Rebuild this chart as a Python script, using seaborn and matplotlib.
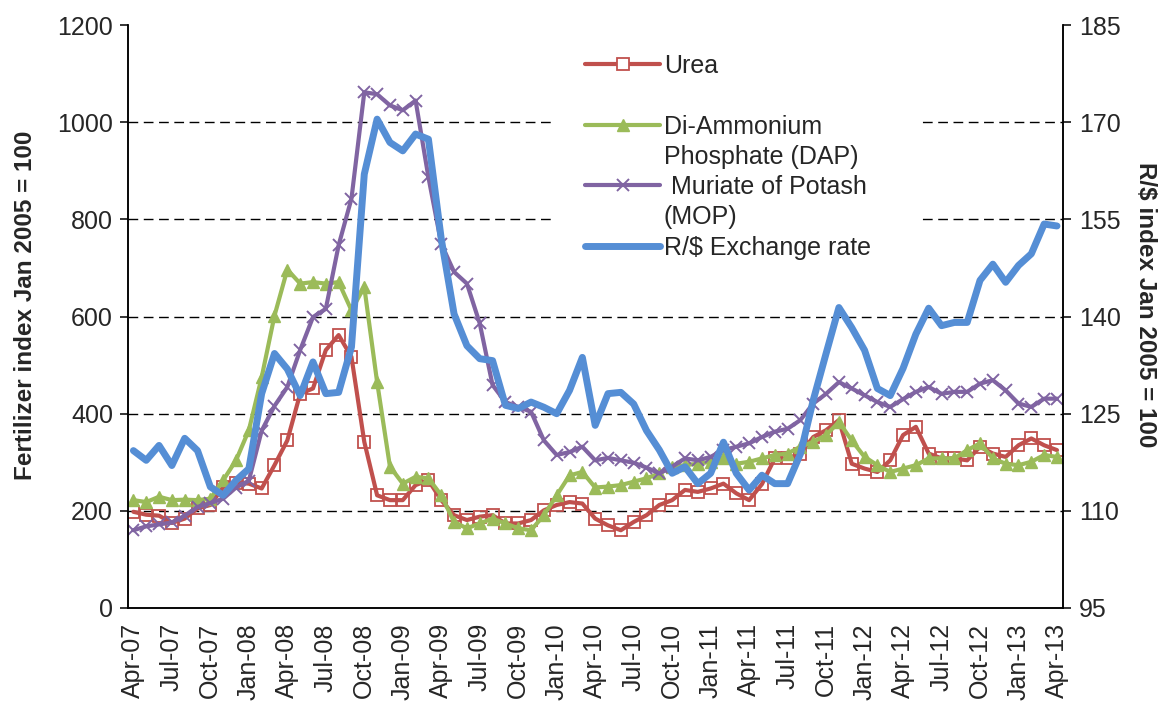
import numpy as np
import pandas as pd
import seaborn as sns
import matplotlib.pyplot as plt
from matplotlib.lines import Line2D

# monthly data Apr-07 .. Apr-13
tick_labels = [
    "Apr-07", "Jul-07", "Oct-07", "Jan-08", "Apr-08", "Jul-08", "Oct-08",
    "Jan-09", "Apr-09", "Jul-09", "Oct-09", "Jan-10", "Apr-10", "Jul-10",
    "Oct-10", "Jan-11", "Apr-11", "Jul-11", "Oct-11", "Jan-12", "Apr-12",
    "Jul-12", "Oct-12", "Jan-13", "Apr-13",
]

urea = [
    198, 192, 190, 175, 184, 205, 212, 249, 258, 256, 246, 294, 345,
    441, 452, 531, 562, 517, 342, 232, 222, 222, 253, 263, 222,
    191, 181, 188, 191, 174, 174, 181, 201, 212, 218, 215, 184,
    170, 160, 177, 191, 212, 222, 243, 239, 246, 256, 236, 222,
    255, 308, 308, 318, 352, 366, 387, 297, 287, 280, 304, 356,
    373, 318, 308, 308, 304, 332, 318, 311, 335, 349, 335, 325,
]

dap = [
    222, 218, 229, 222, 223, 222, 225, 263, 304, 366, 475, 602, 697,
    668, 671, 668, 671, 613, 661, 465, 291, 256, 270, 267, 232,
    177, 164, 174, 184, 174, 164, 160, 191, 232, 273, 280, 248,
    250, 253, 260, 267, 277, 291, 294, 297, 301, 308, 297, 301,
    308, 315, 318, 332, 342, 356, 383, 345, 311, 294, 280, 287,
    294, 308, 308, 308, 325, 339, 308, 297, 294, 301, 315, 311,
]

mop = [
    160, 168, 172, 176, 190, 208, 216, 225, 248, 262, 365, 416, 455,
    531, 599, 616, 747, 843, 1062, 1058, 1035, 1025, 1045, 887, 750,
    692, 668, 586, 459, 424, 414, 404, 345, 315, 321, 332, 304,
    309, 304, 299, 289, 277, 291, 308, 304, 311, 325, 332, 339,
    352, 363, 369, 387, 421, 441, 465, 452, 438, 424, 414, 430,
    445, 455, 441, 445, 445, 462, 469, 448, 421, 414, 431, 431,
]

rand_usd = [
    119.3, 117.8, 120.1, 117.0, 121.2, 119.3, 113.7, 112.4, 114.7, 116.5,
    128.1, 134.3, 131.9, 127.8, 133.0, 128.1, 128.3, 135.3, 162.0, 170.5,
    166.9, 165.6, 168.2, 167.4, 152.0, 140.4, 135.5, 133.5, 133.2, 126.3,
    125.8, 126.8, 126.0, 125.0, 128.6, 133.7, 123.2, 128.1, 128.3, 126.5,
    122.4, 119.4, 115.8, 116.8, 114.2, 115.8, 120.6, 115.8, 113.2, 115.5,
    114.2, 114.2, 118.8, 127.1, 134.3, 141.4, 138.3, 134.8, 128.9, 127.8,
    132.0, 137.3, 141.3, 138.6, 139.1, 139.1, 145.6, 148.1, 145.3, 147.9,
    149.7, 154.3, 154.0,
]

months = np.arange(len(urea))

df = pd.DataFrame({
    "month": months,
    "urea": urea,
    "dap": dap,
    "mop": mop,
    "rand": rand_usd,
})

RED = "#C0504D"
GREEN = "#9BBB59"
PURPLE = "#8064A2"
BLUE = "#558ED5"

sns.set_style("white")
plt.rcParams["font.family"] = ["Liberation Sans", "DejaVu Sans"]

fig = plt.figure(figsize=(11.66, 7.02), dpi=100)
ax = fig.add_axes([0.110, 0.134, 0.802, 0.830])

sns.lineplot(
    data=df, x="month", y="urea", ax=ax,
    color=RED, linewidth=3, marker="s", markersize=9,
    mfc="none", mec=RED, mew=1.3, solid_capstyle="round"
)
sns.lineplot(
    data=df, x="month", y="dap", ax=ax,
    color=GREEN, linewidth=3, marker="^", markersize=9,
    mfc=GREEN, mec=GREEN, mew=1, solid_capstyle="round"
)
sns.lineplot(
    data=df, x="month", y="mop", ax=ax,
    color=PURPLE, linewidth=3, marker="x", markersize=9,
    mec=PURPLE, mew=1.4, solid_capstyle="round"
)

ax.set_xlim(-0.4, 72.5)
ax.set_ylim(0, 1200)
ax.set_yticks(range(0, 1201, 200))
ax.set_xticks(range(0, 73, 3))
ax.set_xticklabels(tick_labels, rotation=90)

ax.grid(axis="y", color="black", linestyle=(0, (7, 4)), linewidth=1)
ax.get_ygridlines()[0].set_visible(False)
ax.get_ygridlines()[-1].set_visible(False)
ax.set_axisbelow(True)

ax2 = ax.twinx()
sns.lineplot(
    data=df, x="month", y="rand", ax=ax2,
    color=BLUE, linewidth=5, solid_capstyle="round"
)
ax2.set_ylim(95, 185)
ax2.set_yticks(range(95, 186, 15))
ax2.set_xlim(-0.4, 72.5)

for a in (ax, ax2):
    a.spines["top"].set_visible(False)
    for s in ("left", "right", "bottom"):
        a.spines[s].set_color("black")
        a.spines[s].set_linewidth(1.1)
    a.tick_params(axis="both", labelsize=18, length=6, width=1.1,
                  color="black", direction="out", pad=5)

ax.set_xlabel("")
ax.set_ylabel("Fertilizer index Jan 2005 = 100", fontsize=17.5, fontweight="bold")
ax.yaxis.set_label_coords(-0.098, 0.52)
ax2.set_ylabel(r"R/\$ index Jan 2005 = 100", fontsize=17.5, fontweight="bold",
               rotation=270)
ax2.yaxis.set_label_coords(1.10, 0.52)

handles = [
    Line2D([], [], color=RED, lw=3, marker="s", markersize=9, mfc="white",
           mec=RED, mew=1.3, solid_capstyle="round"),
    Line2D([], [], color="none"),
    Line2D([], [], color=GREEN, lw=3, marker="^", markersize=9, mfc=GREEN,
           mec=GREEN, solid_capstyle="round"),
    Line2D([], [], color="none"),
    Line2D([], [], color=PURPLE, lw=3, marker="x", markersize=9,
           mec=PURPLE, mew=1.4, solid_capstyle="round"),
    Line2D([], [], color="none"),
    Line2D([], [], color=BLUE, lw=5, solid_capstyle="round"),
]
labels = [
    "Urea", " ", "Di-Ammonium", "Phosphate (DAP)",
    " Muriate of Potash", "(MOP)", "R/\\$ Exchange rate   ",
]
leg = ax2.legend(
    handles, labels, loc="upper left",
    bbox_to_anchor=(555 / 1166, 1 - 24 / 702), bbox_transform=fig.transFigure,
    fontsize=18, frameon=True, facecolor="white", edgecolor="none",
    framealpha=1, fancybox=False, borderpad=1.2, labelspacing=0.25,
    handlelength=3.0, handletextpad=0.15, borderaxespad=0,
)

plt.savefig("out.png", dpi=100)
